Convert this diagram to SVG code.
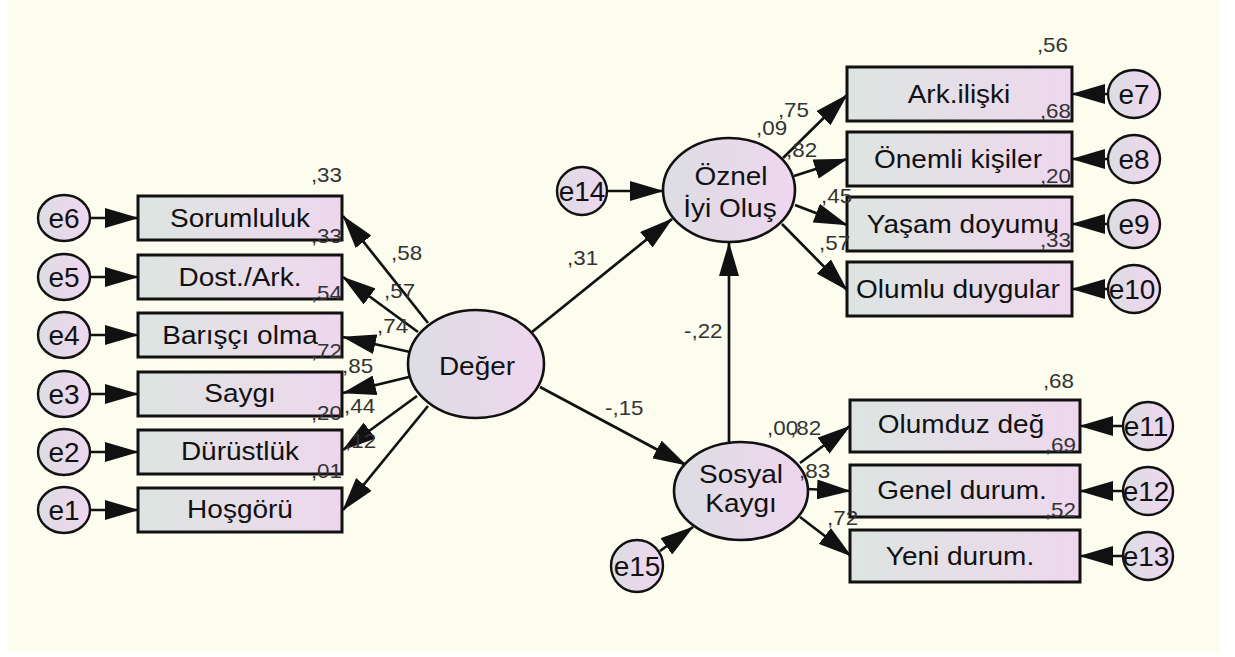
<svg xmlns="http://www.w3.org/2000/svg" width="1235" height="657" viewBox="0 0 1235 657">
<defs>
<style>
.bx{stroke:#111;stroke-width:3;fill:url(#gBox)}
.el{stroke:#111;stroke-width:2.6;fill:url(#gEl)}
.er{stroke:#111;stroke-width:2.4;fill:url(#gEl)}
.ln{stroke:#111;stroke-width:2.7;fill:none;marker-end:url(#ah)}
.lbl{font-family:"Liberation Sans",Arial,sans-serif;font-size:25px;fill:#111;text-anchor:middle}
.elbl{font-family:"Liberation Sans",Arial,sans-serif;font-size:28px;fill:#111;text-anchor:middle}
.num{font-family:"Liberation Sans",Arial,sans-serif;font-size:20px;fill:#333}
.ne{text-anchor:end}
</style>
<linearGradient id="gBox" x1="0" y1="0" x2="1" y2="0">
<stop offset="0" stop-color="#dde5e1"/>
<stop offset="1" stop-color="#eed7ee"/>
</linearGradient>
<linearGradient id="gEl" x1="0" y1="0" x2="1" y2="0">
<stop offset="0" stop-color="#dcdde3"/>
<stop offset="1" stop-color="#efd6ef"/>
</linearGradient>
<marker id="ah" viewBox="0 0 34 20" markerUnits="userSpaceOnUse" markerWidth="34" markerHeight="20" refX="33" refY="10" orient="auto">
<path d="M0,0 L34,10 L0,20 Z" fill="#111"/>
</marker>
</defs>
<rect x="0" y="0" width="1235" height="657" fill="#ffffff"/>
<rect x="8" y="0" width="1212" height="653" fill="#fdfdef"/>

<g id="connectors">
<line class="ln" x1="90" y1="218" x2="138" y2="218"/>
<line class="ln" x1="90" y1="277" x2="138" y2="277"/>
<line class="ln" x1="90" y1="335" x2="138" y2="335"/>
<line class="ln" x1="90" y1="394" x2="138" y2="394"/>
<line class="ln" x1="90" y1="452" x2="138" y2="452"/>
<line class="ln" x1="90" y1="510" x2="138" y2="510"/>
<line class="ln" x1="428" y1="323" x2="343" y2="216"/>
<line class="ln" x1="418" y1="332" x2="343" y2="277"/>
<line class="ln" x1="410" y1="352" x2="343" y2="337"/>
<line class="ln" x1="409" y1="377" x2="343" y2="393"/>
<line class="ln" x1="417" y1="396" x2="343" y2="450"/>
<line class="ln" x1="428" y1="406" x2="343" y2="510"/>
<line class="ln" x1="532" y1="332" x2="672" y2="219"/>
<line class="ln" x1="540" y1="387" x2="686" y2="465"/>
<line class="ln" x1="729" y1="442" x2="729" y2="243"/>
<line class="ln" x1="607" y1="191" x2="663" y2="191"/>
<line class="ln" x1="660" y1="551" x2="693" y2="527"/>
<line class="ln" x1="783" y1="158" x2="847" y2="95"/>
<line class="ln" x1="794" y1="176" x2="847" y2="159"/>
<line class="ln" x1="795" y1="205" x2="847" y2="225"/>
<line class="ln" x1="782" y1="224" x2="847" y2="290"/>
<line class="ln" x1="800" y1="463" x2="850" y2="426"/>
<line class="ln" x1="807" y1="489" x2="850" y2="491"/>
<line class="ln" x1="800" y1="517" x2="851" y2="556"/>
<line class="ln" x1="1108" y1="94" x2="1072" y2="94"/>
<line class="ln" x1="1108" y1="159" x2="1072" y2="159"/>
<line class="ln" x1="1108" y1="224" x2="1072" y2="224"/>
<line class="ln" x1="1108" y1="289" x2="1072" y2="289"/>
<line class="ln" x1="1123" y1="426" x2="1080" y2="426"/>
<line class="ln" x1="1123" y1="491" x2="1080" y2="491"/>
<line class="ln" x1="1123" y1="556" x2="1080" y2="556"/>
</g>

<g id="e6"><ellipse class="er" cx="64" cy="218" rx="26" ry="23"/><text class="elbl" x="64" y="228">e6</text></g>
<g id="e5"><ellipse class="er" cx="64" cy="277" rx="26" ry="23"/><text class="elbl" x="64" y="287">e5</text></g>
<g id="e4"><ellipse class="er" cx="64" cy="335" rx="26" ry="23"/><text class="elbl" x="64" y="345">e4</text></g>
<g id="e3"><ellipse class="er" cx="64" cy="394" rx="26" ry="23"/><text class="elbl" x="64" y="404">e3</text></g>
<g id="e2"><ellipse class="er" cx="64" cy="452" rx="26" ry="23"/><text class="elbl" x="64" y="462">e2</text></g>
<g id="e1"><ellipse class="er" cx="64" cy="510" rx="26" ry="23"/><text class="elbl" x="64" y="520">e1</text></g>

<g id="sorumluluk"><rect class="bx" x="138" y="196" width="204" height="44"/><text class="lbl" transform="translate(240,227) scale(1.12,1)">Sorumluluk</text></g>
<g id="dost"><rect class="bx" x="138" y="255" width="204" height="44"/><text class="lbl" transform="translate(240,286) scale(1.12,1)">Dost./Ark.</text></g>
<g id="baris"><rect class="bx" x="138" y="313" width="204" height="44"/><text class="lbl" transform="translate(240,344) scale(1.12,1)">Barışçı olma</text></g>
<g id="saygi"><rect class="bx" x="138" y="372" width="204" height="44"/><text class="lbl" transform="translate(240,402) scale(1.12,1)">Saygı</text></g>
<g id="durustluk"><rect class="bx" x="138" y="430" width="204" height="44"/><text class="lbl" transform="translate(240,460) scale(1.12,1)">Dürüstlük</text></g>
<g id="hosgoru"><rect class="bx" x="138" y="488" width="204" height="44"/><text class="lbl" transform="translate(240,518) scale(1.12,1)">Hoşgörü</text></g>

<g id="deger"><ellipse class="el" cx="476" cy="364" rx="68" ry="54"/><text class="lbl" transform="translate(477,375) scale(1.12,1)">Değer</text></g>
<g id="oznel"><ellipse class="el" cx="729" cy="190" rx="66" ry="52"/><text class="lbl" transform="translate(731,185) scale(1.12,1)">Öznel</text><text class="lbl" transform="translate(730,217) scale(1.12,1)">İyi Oluş</text></g>
<g id="sosyal"><ellipse class="el" cx="741" cy="491" rx="67" ry="49"/><text class="lbl" transform="translate(741,483) scale(1.12,1)">Sosyal</text><text class="lbl" transform="translate(741,512) scale(1.12,1)">Kaygı</text></g>
<g id="e14"><ellipse class="er" cx="582" cy="191" rx="25" ry="24"/><text class="elbl" x="582" y="201">e14</text></g>
<g id="e15"><ellipse class="er" cx="637" cy="566" rx="26" ry="26"/><text class="elbl" x="637" y="576">e15</text></g>

<g id="ark"><rect class="bx" x="847" y="67" width="225" height="54"/><text class="lbl" transform="translate(959,103) scale(1.12,1)">Ark.ilişki</text></g>
<g id="onemli"><rect class="bx" x="847" y="132" width="225" height="54"/><text class="lbl" transform="translate(958,168) scale(1.12,1)">Önemli kişiler</text></g>
<g id="yasam"><rect class="bx" x="847" y="197" width="225" height="54"/><text class="lbl" transform="translate(963,233) scale(1.12,1)">Yaşam doyumu</text></g>
<g id="olumlu"><rect class="bx" x="847" y="262" width="225" height="54"/><text class="lbl" transform="translate(958,298) scale(1.12,1)">Olumlu duygular</text></g>
<g id="e7"><ellipse class="er" cx="1134" cy="94" rx="26" ry="24"/><text class="elbl" x="1134" y="104">e7</text></g>
<g id="e8"><ellipse class="er" cx="1134" cy="159" rx="26" ry="24"/><text class="elbl" x="1134" y="169">e8</text></g>
<g id="e9"><ellipse class="er" cx="1134" cy="224" rx="26" ry="24"/><text class="elbl" x="1134" y="234">e9</text></g>
<g id="e10"><ellipse class="er" cx="1134" cy="289" rx="26" ry="24"/><text class="elbl" x="1132" y="299">e10</text></g>

<g id="olumduz"><rect class="bx" x="850" y="400" width="230" height="52"/><text class="lbl" transform="translate(961,433) scale(1.12,1)">Olumduz değ</text></g>
<g id="genel"><rect class="bx" x="850" y="465" width="230" height="52"/><text class="lbl" transform="translate(962,499) scale(1.12,1)">Genel durum.</text></g>
<g id="yeni"><rect class="bx" x="850" y="530" width="230" height="52"/><text class="lbl" transform="translate(960,565) scale(1.12,1)">Yeni durum.</text></g>
<g id="e11"><ellipse class="er" cx="1148" cy="426" rx="25" ry="24"/><text class="elbl" x="1146" y="436">e11</text></g>
<g id="e12"><ellipse class="er" cx="1148" cy="491" rx="25" ry="24"/><text class="elbl" x="1146" y="501">e12</text></g>
<g id="e13"><ellipse class="er" cx="1148" cy="556" rx="25" ry="24"/><text class="elbl" x="1146" y="566">e13</text></g>

<g id="estimates">
<text class="num ne" transform="translate(342,182) scale(1.12,1)">,33</text>
<text class="num ne" transform="translate(342,243) scale(1.12,1)">,33</text>
<text class="num ne" transform="translate(342,300) scale(1.12,1)">,54</text>
<text class="num ne" transform="translate(342,358) scale(1.12,1)">,72</text>
<text class="num ne" transform="translate(342,420) scale(1.12,1)">,20</text>
<text class="num ne" transform="translate(342,478) scale(1.12,1)">,01</text>
<text class="num" transform="translate(391,260) scale(1.12,1)">,58</text>
<text class="num" transform="translate(384,298) scale(1.12,1)">,57</text>
<text class="num" transform="translate(377,333) scale(1.12,1)">,74</text>
<text class="num" transform="translate(342,373) scale(1.12,1)">,85</text>
<text class="num" transform="translate(344,413) scale(1.12,1)">,44</text>
<text class="num" transform="translate(345,448) scale(1.12,1)">,12</text>
<text class="num" transform="translate(567,265) scale(1.12,1)">,31</text>
<text class="num" transform="translate(605,415) scale(1.12,1)">-,15</text>
<text class="num" transform="translate(684,338) scale(1.12,1)">-,22</text>
<text class="num ne" transform="translate(1068,52) scale(1.12,1)">,56</text>
<text class="num ne" transform="translate(1071,118) scale(1.12,1)">,68</text>
<text class="num ne" transform="translate(1071,183) scale(1.12,1)">,20</text>
<text class="num ne" transform="translate(1071,247) scale(1.12,1)">,33</text>
<text class="num" transform="translate(756,135) scale(1.12,1)">,09</text>
<text class="num ne" transform="translate(809,117) scale(1.12,1)">,75</text>
<text class="num" transform="translate(786,157) scale(1.12,1)">,82</text>
<text class="num" transform="translate(821,203) scale(1.12,1)">,45</text>
<text class="num" transform="translate(819,250) scale(1.12,1)">,57</text>
<text class="num ne" transform="translate(1074,388) scale(1.12,1)">,68</text>
<text class="num ne" transform="translate(1076,452) scale(1.12,1)">,69</text>
<text class="num ne" transform="translate(1076,517) scale(1.12,1)">,52</text>
<text class="num" transform="translate(767,435) scale(1.12,1)">,00</text>
<text class="num" transform="translate(790,435) scale(1.12,1)">,82</text>
<text class="num" transform="translate(799,478) scale(1.12,1)">,83</text>
<text class="num" transform="translate(827,525) scale(1.12,1)">,72</text>
</g>
</svg>
